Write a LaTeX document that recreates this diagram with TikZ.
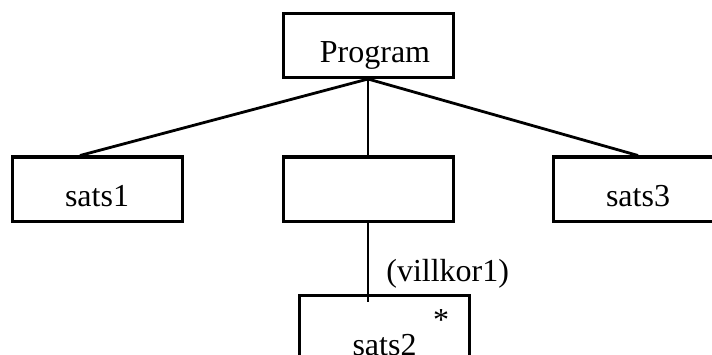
\documentclass[tikz,border=0pt]{standalone}
\usepackage{fontspec}
\setmainfont{Liberation Serif}
\usepackage{tikz}
\usetikzlibrary{positioning}
\tikzstyle{box} = [rectangle, minimum width=170pt, minimum height=64pt, text height=35pt, text depth=0pt, draw=black, line width=3pt]
\tikzstyle{link} = [line width=2.8pt]

\begin{document}
\begin{tikzpicture}[x=1pt, y=1pt, node distance=143.5pt, font=\fontsize{32}{38}\selectfont]
\useasboundingbox (0,0) rectangle (712,354);
%
\node (program) [box] at (368,308.5) {\hspace{14pt}Program};
\node (villkor) [box, below of=program] {};
\node (sats1) [box, left of=villkor, xshift=-127.5pt] {sats1};
\node (sats3) [box, right of=villkor, xshift=126.5pt] {sats3};
\node (sats2) [box, below of=villkor, xshift=16.5pt, yshift=-3pt, minimum height=81pt, text height=39pt] {sats2\hspace{35pt}};
\node (star) [anchor=base] at ([xshift=56.5pt, yshift=5.5pt]sats2.center) {*};
%
\draw [link] (program.south) -- ([xshift=-17pt]sats1.north);
\draw [link] (program) -- (villkor);
\draw [link] (program.south) -- (sats3.north);
\draw [link] (villkor) -- node[right=17pt, inner sep=0pt, pos=0.65] {(villkor1)} ([yshift=-8pt]villkor.south |- sats2.north);
%
\end{tikzpicture}
\end{document}
